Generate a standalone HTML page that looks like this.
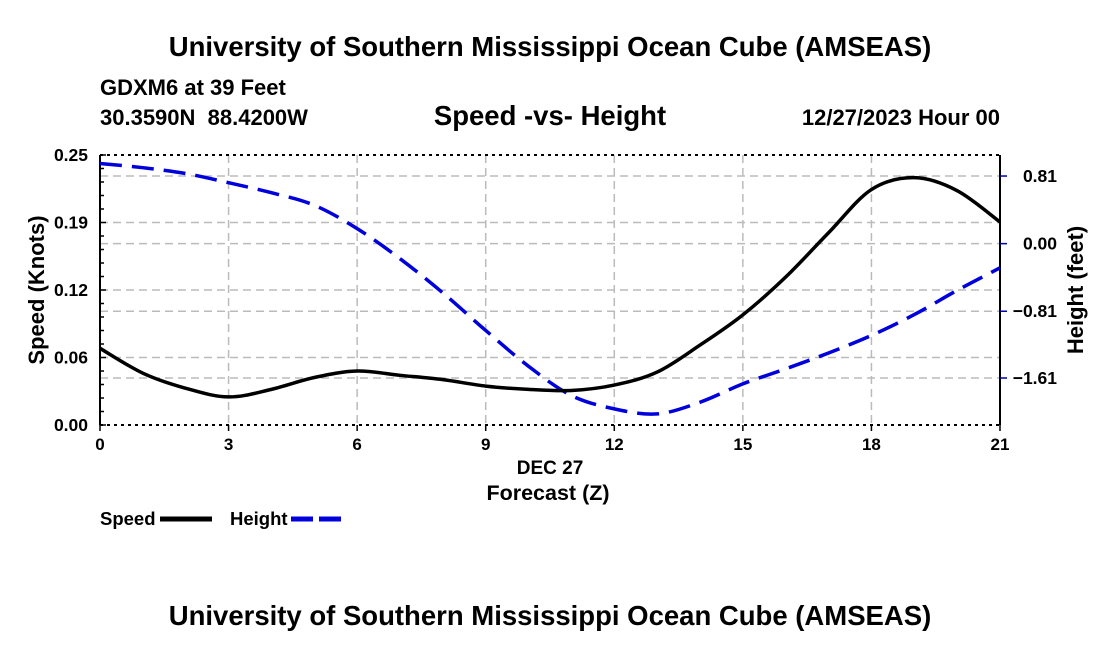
<!DOCTYPE html>
<html><head><meta charset="utf-8"><style>
body{margin:0;background:#fff;}
svg text{font-family:"Liberation Sans",Arial,sans-serif;font-weight:bold;fill:#000;white-space:pre;}
</style></head><body>
<svg id="chart" width="1100" height="650" xmlns="http://www.w3.org/2000/svg">
<text x="550" y="56" font-size="27.5" text-anchor="middle">University of Southern Mississippi Ocean Cube (AMSEAS)</text>
<text x="100" y="95" font-size="22">GDXM6 at 39 Feet</text>
<text x="100" y="125" font-size="22" xml:space="preserve">30.3590N  88.4200W</text>
<text x="550" y="125" font-size="27.5" text-anchor="middle">Speed -vs- Height</text>
<text x="1000" y="125" font-size="22" text-anchor="end">12/27/2023 Hour 00</text>
<g id="grid"></g>
<g id="axes"></g>
<g id="series"></g>
<text transform="translate(44,290) rotate(-90)" font-size="22" text-anchor="middle">Speed (Knots)</text>
<text transform="translate(1083,290) rotate(-90)" font-size="22" text-anchor="middle">Height (feet)</text>
<text x="550" y="474" font-size="19" text-anchor="middle">DEC 27</text>
<text x="548" y="500" font-size="21.5" text-anchor="middle">Forecast (Z)</text>
<g>
<text x="100" y="525" font-size="18.5">Speed</text>
<line x1="160" y1="519" x2="212" y2="519" stroke="#000" stroke-width="5"/>
<text x="230" y="525" font-size="18.5">Height</text>
<line x1="291" y1="519" x2="343" y2="519" stroke="#0000dd" stroke-width="5" stroke-dasharray="22,6"/>
</g>
<text x="550" y="625" font-size="27.5" text-anchor="middle">University of Southern Mississippi Ocean Cube (AMSEAS)</text>
</svg>
<script>
const hours=[0,1,2,3,4,5,6,7,8,9,10,11,12,13,14,15,16,17,18,19,20,21];
const speed=[0.071,0.048,0.034,0.026,0.033,0.044,0.050,0.046,0.042,0.036,0.033,0.032,0.037,0.049,0.074,0.102,0.137,0.178,0.218,0.229,0.217,0.188];
const height=[0.96,0.91,0.84,0.73,0.61,0.46,0.18,-0.18,-0.59,-1.04,-1.47,-1.82,-1.98,-2.04,-1.90,-1.68,-1.50,-1.31,-1.10,-0.85,-0.56,-0.29];
const xTicks=[0,3,6,9,12,15,18,21];
const leftTicks=[0,0.0625,0.125,0.1875,0.25];
const leftLabels=["0.00","0.06","0.12","0.19","0.25"];
const rightTicks=[0.81,0,-0.81,-1.61];
const rightLabels=["0.81","0.00","\u22120.81","\u22121.61"];
const L=100,R=1000,T=155,B=425;
const HMIN=-2.173,HMAX=1.062;
const xs=h=>L+(h-0)/21*(R-L);
const ys=v=>B-v/0.25*(B-T);
const yh=v=>B-(v-HMIN)/(HMAX-HMIN)*(B-T);
const NS="http://www.w3.org/2000/svg";
function mk(tag,parent,attrs){const e=document.createElementNS(NS,tag);for(const k in attrs)e.setAttribute(k,attrs[k]);parent.appendChild(e);return e;}
const grid=document.getElementById('grid'),axes=document.getElementById('axes'),series=document.getElementById('series');
const gs={stroke:"#bbb","stroke-width":1.5,"stroke-dasharray":"8,5",fill:"none"};
xTicks.slice(1,-1).forEach(h=>{const e=mk('line',grid,Object.assign({x1:xs(h),x2:xs(h),y1:T,y2:B},gs));

});
leftTicks.slice(1,-1).forEach(v=>{const e=mk('line',grid,Object.assign({x1:L,x2:R,y1:ys(v),y2:ys(v)},gs));

});
rightTicks.forEach(v=>{const e=mk('line',grid,Object.assign({x1:L,x2:R,y1:yh(v),y2:yh(v)},gs));

});
mk('line',axes,{x1:L,x2:L,y1:T,y2:B,stroke:"#000","stroke-width":2});
mk('line',axes,{x1:R,x2:R,y1:T,y2:B,stroke:"#000","stroke-width":2});
mk('line',axes,{x1:L,x2:R,y1:T,y2:T,stroke:"#000","stroke-width":2,"stroke-dasharray":"3,4"});
mk('line',axes,{x1:L,x2:R,y1:B,y2:B,stroke:"#000","stroke-width":2,"stroke-dasharray":"3,4"});
for(let i=0;i<=20;i++){const v=i*0.0125;mk('line',axes,{x1:L,x2:L+(i%5==0?6:4),y1:ys(v),y2:ys(v),stroke:"#000","stroke-width":1.5});}
leftTicks.forEach((v,i)=>{const t=mk('text',axes,{x:L-12,y:ys(v)+6,"font-size":17.5,"text-anchor":"end"});t.textContent=leftLabels[i];

});
rightTicks.forEach((v,i)=>{mk('line',axes,{x1:R,x2:R+7,y1:yh(v),y2:yh(v),stroke:"#0000aa","stroke-width":1.5});
const t=mk('text',axes,{x:R+57,y:yh(v)+6,"font-size":17.5,"text-anchor":"end"});t.textContent=rightLabels[i];

});
xTicks.forEach(h=>{mk('line',axes,{x1:xs(h),x2:xs(h),y1:B,y2:B+6,stroke:"#000","stroke-width":1.5});
const t=mk('text',axes,{x:xs(h),y:B+25,"font-size":17,"text-anchor":"middle"});t.textContent=h;

});
function smooth(pts){let d=`M${pts[0][0]},${pts[0][1]}`;for(let i=0;i<pts.length-1;i++){const p0=pts[i-1]||pts[i],p1=pts[i],p2=pts[i+1],p3=pts[i+2]||p2;
d+=` C${p1[0]+(p2[0]-p0[0])/6},${p1[1]+(p2[1]-p0[1])/6} ${p2[0]-(p3[0]-p1[0])/6},${p2[1]-(p3[1]-p1[1])/6} ${p2[0]},${p2[1]}`;}return d;}
const hp=mk('path',series,{d:smooth(hours.map((h,i)=>[xs(h),yh(height[i])])),stroke:"#0000dd","stroke-width":3.5,fill:"none","stroke-dasharray":"22,10"});


const sp=mk('path',series,{d:smooth(hours.map((h,i)=>[xs(h),ys(speed[i])])),stroke:"#000","stroke-width":3.5,fill:"none"});


</script>
</body></html>
